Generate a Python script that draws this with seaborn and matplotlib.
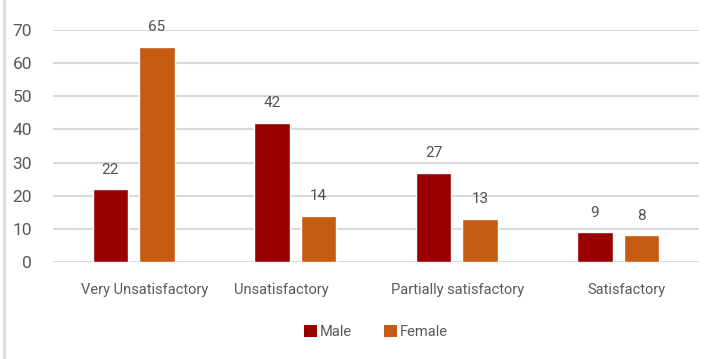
import matplotlib
matplotlib.use("Agg")
import matplotlib.pyplot as plt
import matplotlib.transforms as mtransforms
from matplotlib.lines import Line2D
from matplotlib.patches import Patch
import seaborn as sns
import pandas as pd

categories = ["Very Unsatisfactory", "Unsatisfactory", "Partially satisfactory", "Satisfactory"]
male = [22, 42, 27, 9]
female = [65, 14, 13, 8]
series = ["Male", "Female"]
colors = {"Male": "#9b0000", "Female": "#c55a11"}
yticks = [0, 10, 20, 30, 40, 50, 60, 70]

df = pd.DataFrame({
    "category": categories * 2,
    "group": ["Male"] * len(categories) + ["Female"] * len(categories),
    "value": male + female,
})

sns.set_theme(style="white")
plt.rcParams["font.family"] = ["Roboto", "DejaVu Sans"]
text_color = "#5a5a5a"

fig = plt.figure(figsize=(7.15, 3.59), dpi=100)
ax = fig.add_axes([53 / 715, 1 - 262 / 359, 646 / 715, 232 / 359])

sns.barplot(data=df, x="category", y="value", hue="group", order=categories,
            hue_order=series, palette=colors, width=0.576, gap=0.247,
            saturation=1, legend=False, ax=ax)

ax.set_ylim(0, 70)
ax.set_xlim(-0.5, len(categories) - 0.5)
ax.set_yticks(yticks)
ax.yaxis.grid(True, color="#d9d9d9", linewidth=1.5)
ax.set_axisbelow(True)
for s in ax.spines.values():
    s.set_visible(False)
ax.set_xlabel("")
ax.set_ylabel("")
ax.tick_params(axis="y", labelsize=12.5, colors=text_color, length=0, pad=15)
ax.tick_params(axis="x", labelsize=10.5, colors=text_color, length=0, pad=15)

# nudge category labels horizontally (pixels)
label_shift = [11, -14, 1, 8]
for lab, dx in zip(ax.get_xticklabels(), label_shift):
    lab.set_transform(lab.get_transform() +
                      mtransforms.ScaledTranslation(dx / 100, 0, fig.dpi_scale_trans))

for cont in ax.containers:
    for bar in cont:
        h = bar.get_height()
        ax.annotate(f"{h:g}", (bar.get_x() + bar.get_width() / 2, h),
                    xytext=(0, 9), textcoords="offset points",
                    ha="center", va="bottom", fontsize=11, color="#505050")

handles = [Patch(facecolor=colors[s], edgecolor="none") for s in series]
fig.legend(handles, series, loc="center", bbox_to_anchor=(376 / 715, 1 - 332 / 359),
           ncol=2, frameon=False, fontsize=10.5, handlelength=0.9, handleheight=0.9,
           handletextpad=0.2, columnspacing=2.2, labelcolor=text_color)

# thin frame line along the left edge
fig.add_artist(Line2D([4 / 715, 4 / 715], [0, 1], transform=fig.transFigure,
                      color="#d9d9d9", linewidth=2))

fig.savefig("out.png", dpi=100)
